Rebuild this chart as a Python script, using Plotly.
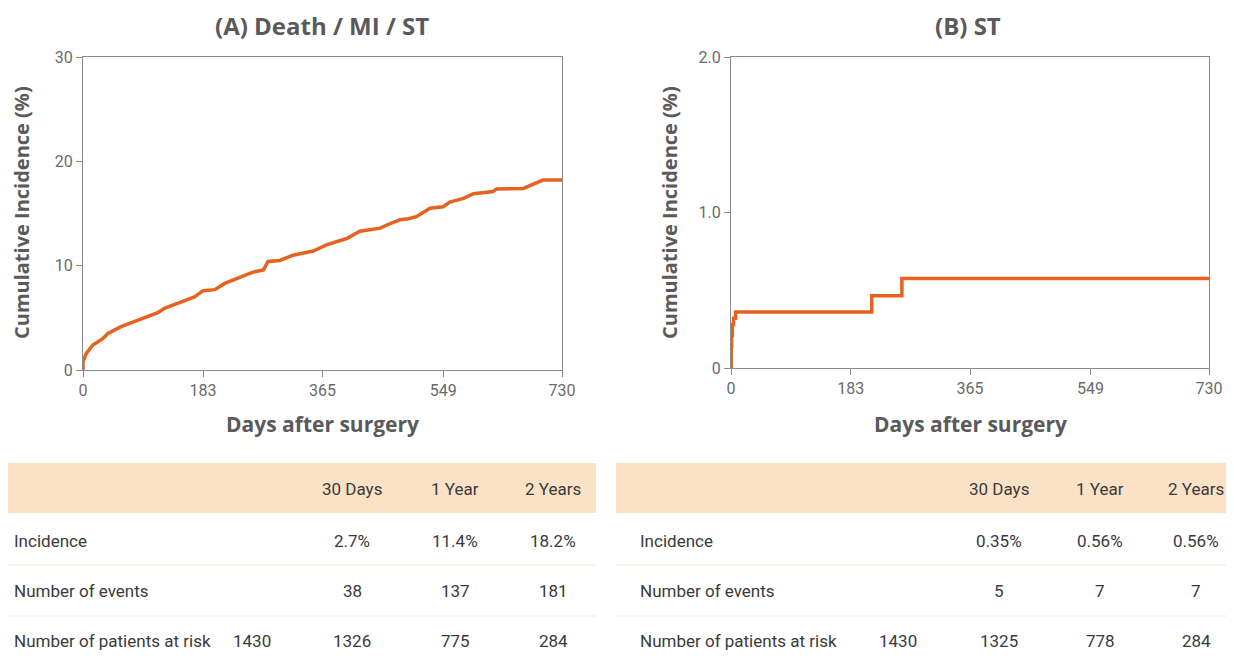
import plotly.graph_objects as go

# ---------------- data ----------------
days_a = [0, 0, 5, 15, 30, 38, 58, 84, 114, 124, 150, 170, 183, 201, 216, 239, 260, 275, 282,
          300, 320, 351, 371, 402, 422, 453, 463, 483, 496, 508, 529, 549, 559, 580, 595, 625,
          630, 671, 691, 701, 730]
inc_a = [0, 0.8, 1.6, 2.4, 3.0, 3.5, 4.15, 4.8, 5.5, 5.9, 6.55, 7.0, 7.6, 7.7, 8.3, 8.9, 9.4, 9.6, 10.4,
         10.5, 11.0, 11.4, 12.0, 12.6, 13.3, 13.6, 13.9, 14.4, 14.5, 14.7, 15.5, 15.65, 16.1, 16.45, 16.9, 17.1,
         17.35, 17.4, 17.9, 18.2, 18.2]

days_b = [0, 0.3, 1, 2, 4, 7, 215, 261, 730]
inc_b = [0, 0.14, 0.21, 0.28, 0.32, 0.36, 0.465, 0.575, 0.575]

x_ticks = [0, 183, 365, 549, 730]
y_ticks_a = [0, 10, 20, 30]
y_ticks_b = [0, 1.0, 2.0]
y_ticklabels_b = ["0", "1.0", "2.0"]

titles = ["(A) Death / MI / ST", "(B) ST"]
col_headers = ["30 Days", "1 Year", "2 Years"]
row_labels = ["Incidence", "Number of events", "Number of patients at risk"]
table_a = [["", "2.7%", "11.4%", "18.2%"],
           ["", "38", "137", "181"],
           ["1430", "1326", "775", "284"]]
table_b = [["", "0.35%", "0.56%", "0.56%"],
           ["", "5", "7", "7"],
           ["1430", "1325", "778", "284"]]

# ---------------- layout helpers ----------------
# the page body has an 8px margin, so the figure is drawn at (8, 8) on screen
OFF = 8
W, H = 1234 - 2 * OFF, 664 - 2 * OFF
def px(x):
    return (x - OFF) / W
def py(y):
    return 1 - (y - OFF) / H

ORANGE = "#e5621f"
AXIS_C = "#8a8a8a"
TXT = "#5a5a5a"
TICKFONT = dict(family="Roboto, Arial", size=16, color="#6a6a6a")
TBLFONT = dict(family="Roboto, Arial", size=17, color="#3a3a3a")
BOLD = "Open Sans, Liberation Sans, Arial"

fig = go.Figure()
fig.add_trace(go.Scatter(x=days_a, y=inc_a, mode="lines", line=dict(color=ORANGE, width=3.5),
                         xaxis="x", yaxis="y", showlegend=False, hoverinfo="skip"))
fig.add_trace(go.Scatter(x=days_b, y=inc_b, mode="lines", line=dict(color=ORANGE, width=3.5, shape="hv"),
                         xaxis="x2", yaxis="y2", showlegend=False, hoverinfo="skip"))

common_x = dict(range=[0, 730], tickvals=x_ticks, ticks="outside", ticklen=6, tickcolor=AXIS_C,
                showline=True, linecolor=AXIS_C, linewidth=1, mirror=True, showgrid=False,
                zeroline=False, tickfont=TICKFONT, fixedrange=True, automargin=False)
common_y = dict(ticks="outside", ticklen=6, tickcolor=AXIS_C, showline=True, linecolor=AXIS_C,
                linewidth=1, mirror=True, showgrid=False, zeroline=False, tickfont=TICKFONT,
                fixedrange=True, automargin=False)

fig.update_layout(
    width=W, height=H, margin=dict(l=0, r=0, t=0, b=0, autoexpand=False),
    paper_bgcolor="white", plot_bgcolor="white",
    xaxis=dict(domain=[px(83), px(562)], anchor="y", **common_x),
    yaxis=dict(domain=[py(370), py(57)], anchor="x", range=[0, 30], tickvals=y_ticks_a, **common_y),
    xaxis2=dict(domain=[px(731), px(1209)], anchor="y2", **common_x),
    yaxis2=dict(domain=[py(368), py(57)], anchor="x2", range=[0, 2.0], tickvals=y_ticks_b,
                ticktext=y_ticklabels_b, **common_y),
)

ann = []
shapes = []
def note(text, x, y, font, xanchor="center", angle=0):
    ann.append(dict(text=text, x=px(x), y=py(y), xref="paper", yref="paper", showarrow=False,
                    xanchor=xanchor, yanchor="middle", textangle=angle, font=font))

# titles
for t, cx in zip(titles, [322, 968]):
    note(f"<b>{t}</b>", cx, 25, dict(family=BOLD, size=24, color=TXT))
# axis titles
for cx in [322, 970]:
    note("<b>Days after surgery</b>", cx, 424, dict(family=BOLD, size=21, color=TXT))
for cx in [22, 670]:
    note("<b>Cumulative Incidence (%)</b>", cx, 213, dict(family=BOLD, size=20, color=TXT), angle=-90)

# tables
def add_table(x0, x1, label_x, col_x, data):
    shapes.append(dict(type="rect", xref="paper", yref="paper", x0=px(x0), x1=px(x1),
                       y0=py(513), y1=py(463), fillcolor="#fbe2c6", line=dict(width=0), layer="below"))
    for yy in [565, 616]:
        shapes.append(dict(type="line", xref="paper", yref="paper", x0=px(x0), x1=px(x1),
                           y0=py(yy), y1=py(yy), line=dict(color="#f2e6da", width=1)))
    for h, cx in zip(col_headers, col_x[1:]):
        note(h, cx, 489, TBLFONT)
    for r, (lab, ry) in enumerate(zip(row_labels, [541, 591, 641])):
        note(lab, label_x, ry, TBLFONT, xanchor="left")
        for v, cx in zip(data[r], col_x):
            if v:
                note(v, cx, ry, TBLFONT)

add_table(OFF, 596, 12, [252, 352, 455, 553], table_a)
add_table(616, 1234 - OFF, 638, [898, 999, 1100, 1196], table_b)

fig.update_layout(annotations=ann, shapes=shapes)
fig.write_html("out.html")
